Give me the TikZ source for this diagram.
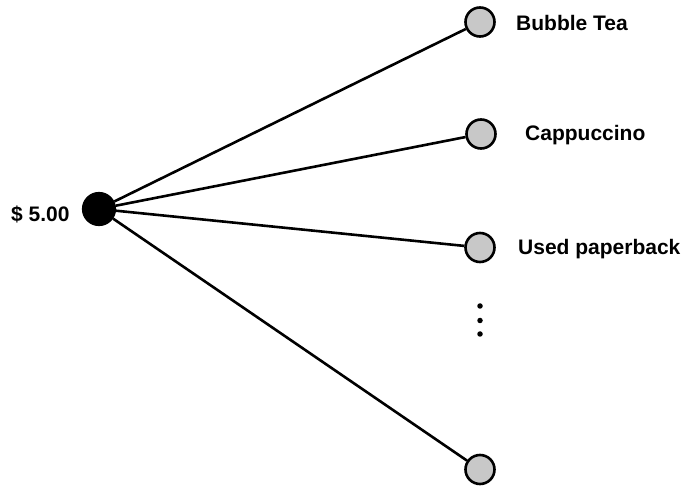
\documentclass[tikz,border=0pt]{standalone}
\usepackage{fontspec}
\setmainfont{Liberation Sans}
\definecolor{leafgray}{RGB}{200,200,200}
\begin{document}
\begin{tikzpicture}[x=1pt,y=-1pt,
  rootnode/.style={circle,fill=black,draw=black,line width=1.2pt,minimum size=33pt,inner sep=0pt},
  leaf/.style={circle,fill=leafgray,draw=black,line width=2.6pt,minimum size=29pt,inner sep=0pt},
  lbl/.style={font=\bfseries\fontsize{21}{25}\selectfont,inner sep=0pt},
  edge/.style={line width=2.6pt},
  dotmark/.style={circle,fill=black,inner sep=0pt,minimum size=5.5pt}]
\useasboundingbox (0,0) rectangle (681,489);
\node[rootnode] (r) at (99,209) {};
\node[leaf] (a) at (480,22) {};
\node[leaf] (b) at (481,134) {};
\node[leaf] (c) at (480,247.5) {};
\node[leaf] (d) at (480,469.5) {};
\node[lbl,anchor=west] (la) at (516,23) {Bubble Tea};
\node[lbl,anchor=west] (lb) at (525,135) {Cappuccino};
\node[lbl,anchor=west] (lc) at (518,249) {Used paperback};
\node[lbl,anchor=west] (lr) at (11,214) {\$ 5.00};
\node[dotmark] (d1) at (480,306) {};
\node[dotmark] (d2) at (480,320.5) {};
\node[dotmark] (d3) at (480,334) {};
\draw[edge] (r) -- (a);
\draw[edge] (r) -- (b);
\draw[edge] (r) -- (c);
\draw[edge] (r) -- (d);
\end{tikzpicture}
\end{document}
